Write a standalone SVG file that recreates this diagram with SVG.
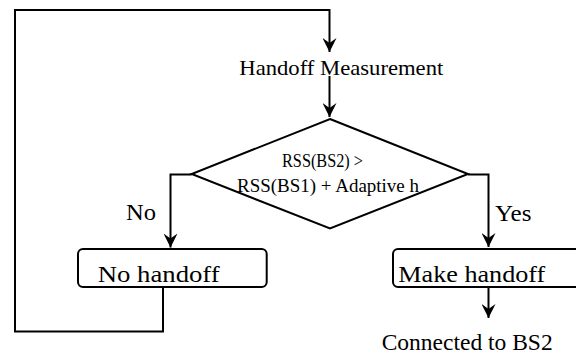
<svg xmlns="http://www.w3.org/2000/svg" width="576" height="354" viewBox="0 0 576 354">
<style>
.ln{fill:none;stroke:#000;stroke-width:2}
.box{fill:#fff;stroke:#000;stroke-width:2}
.t{font-family:"Liberation Serif","Times New Roman",serif;fill:#000}
</style>
<defs>
<marker id="ah" viewBox="0 0 14 14" refX="14" refY="7" markerWidth="14" markerHeight="14" markerUnits="userSpaceOnUse" orient="auto">
<path d="M0,0 L14,7 L0,14 L5,7 Z" fill="#000"/>
</marker>
</defs>
<rect width="576" height="354" fill="#fff"/>
<g id="connectors">
<path class="ln" d="M163,287 V331.5 H15 V10 H329.5 V52" marker-end="url(#ah)"/>
<path class="ln" d="M329.5,76 V117" marker-end="url(#ah)"/>
<path class="ln" d="M191.7,174.5 H170.5 V247.5" marker-end="url(#ah)"/>
<path class="ln" d="M468,174.5 H488.5 V247" marker-end="url(#ah)"/>
<path class="ln" d="M488.5,287 V318" marker-end="url(#ah)"/>
</g>
<g id="measurement">
<text class="t" x="239.3" y="75" font-size="22" textLength="204" lengthAdjust="spacingAndGlyphs">Handoff Measurement</text>
</g>
<g id="decision">
<polygon class="box" points="330,119 468,174 330,228.5 191.7,174"/>
<text class="t" x="282" y="166.7" font-size="18" textLength="81" lengthAdjust="spacingAndGlyphs">RSS(BS2) &gt;</text>
<text class="t" x="237" y="191.5" font-size="18" textLength="182" lengthAdjust="spacingAndGlyphs">RSS(BS1) + Adaptive h</text>
</g>
<g id="label-no">
<text class="t" x="126" y="220" font-size="23" textLength="30" lengthAdjust="spacingAndGlyphs">No</text>
</g>
<g id="label-yes">
<text class="t" x="495" y="220.7" font-size="23" textLength="36.5" lengthAdjust="spacingAndGlyphs">Yes</text>
</g>
<g id="no-handoff">
<rect class="box" x="78" y="249" width="188.7" height="38" rx="5"/>
<text class="t" x="97.7" y="281.7" font-size="24" textLength="122" lengthAdjust="spacingAndGlyphs">No handoff</text>
</g>
<g id="make-handoff">
<rect class="box" x="393" y="249" width="200" height="38" rx="5"/>
<text class="t" x="398.3" y="281.7" font-size="24" textLength="147" lengthAdjust="spacingAndGlyphs">Make handoff</text>
</g>
<g id="connected">
<text class="t" x="381.7" y="350" font-size="23.5" textLength="171" lengthAdjust="spacingAndGlyphs">Connected to BS2</text>
</g>
</svg>
